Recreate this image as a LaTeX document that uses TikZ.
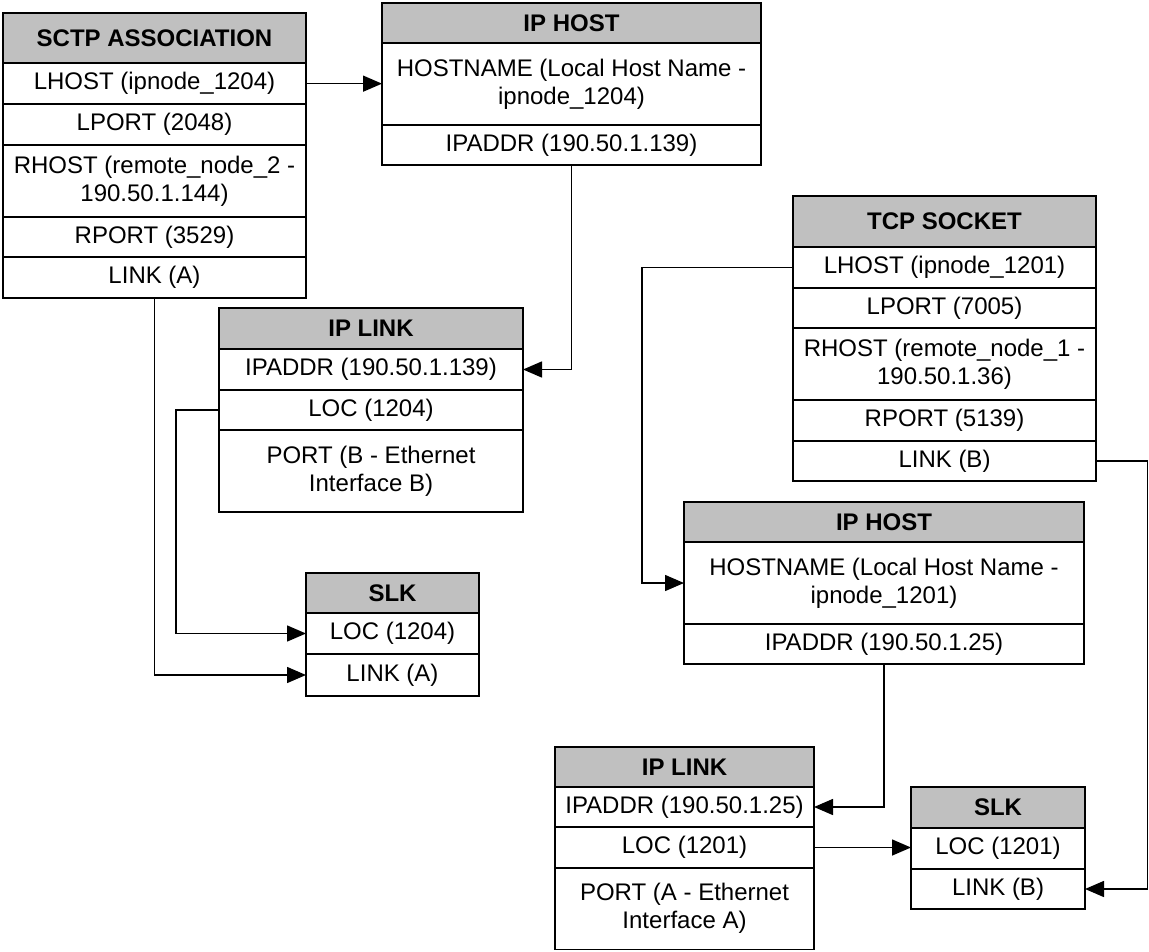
\documentclass[tikz,border=0pt]{standalone}
\usepackage{fontspec}
\setmainfont{Liberation Sans}
\usetikzlibrary{arrows.meta}
\definecolor{hdrgray}{RGB}{192,192,192}
\tikzset{
  cellbase/.style={draw=black, line width=1.8pt, inner sep=0pt, outer sep=0pt, align=center, text=black},
  hdrcell/.style={cellbase, fill=hdrgray, font=\fontsize{24}{28}\selectfont\bfseries},
  rowcell/.style={cellbase, fill=white, font=\fontsize{24}{28}\selectfont},
  link/.style={line width=1.5pt, draw=black, -{Triangle[length=19pt,width=16pt]}},
}
\newcommand\cellbox[7]{%
  \node[#2, minimum width={(#4)-(#3)}, minimum height={(#6)-(#5)}] (#1) at ({((#3)+(#4))/2},{-((#5)+(#6))/2}) {#7};}
\begin{document}
\begin{tikzpicture}[x=1pt,y=1pt]
\useasboundingbox (0,0) rectangle (1149,-951);
% SCTP ASSOCIATION
\cellbox{sctpH}{hdrcell}{3}{306}{12.7}{63.3}{SCTP ASSOCIATION}
\cellbox{sctpLH}{rowcell}{3}{306}{63.3}{104}{LHOST (ipnode\_1204)}
\cellbox{sctpLP}{rowcell}{3}{306}{104}{145}{LPORT (2048)}
\cellbox{sctpRH}{rowcell}{3}{306}{145}{216.7}{RHOST (remote\_node\_2 -\\190.50.1.144)}
\cellbox{sctpRP}{rowcell}{3}{306}{216.7}{257.3}{RPORT (3529)}
\cellbox{sctpLK}{rowcell}{3}{306}{257.3}{297.7}{LINK (A)}
% IP HOST 1
\cellbox{iphaH}{hdrcell}{382}{761}{2.7}{43.3}{IP HOST}
\cellbox{iphaHN}{rowcell}{382}{761}{43.3}{125}{HOSTNAME (Local Host Name -\\ipnode\_1204)}
\cellbox{iphaIP}{rowcell}{382}{761}{125}{165}{IPADDR (190.50.1.139)}
% IP LINK 1
\cellbox{iplaH}{hdrcell}{219}{523}{308}{349}{IP LINK}
\cellbox{iplaIP}{rowcell}{219}{523}{349}{390}{IPADDR (190.50.1.139)}
\cellbox{iplaLOC}{rowcell}{219}{523}{390}{430}{LOC (1204)}
\cellbox{iplaPT}{rowcell}{219}{523}{430}{512}{PORT (B - Ethernet\\Interface B)}
% SLK 1
\cellbox{slkaH}{hdrcell}{306}{479}{573}{613}{SLK}
\cellbox{slkaLOC}{rowcell}{306}{479}{613}{654}{LOC (1204)}
\cellbox{slkaLK}{rowcell}{306}{479}{654}{696}{LINK (A)}
% TCP SOCKET
\cellbox{tcpH}{hdrcell}{793}{1096}{196}{247}{TCP SOCKET}
\cellbox{tcpLH}{rowcell}{793}{1096}{247}{288}{LHOST (ipnode\_1201)}
\cellbox{tcpLP}{rowcell}{793}{1096}{288}{328}{LPORT (7005)}
\cellbox{tcpRH}{rowcell}{793}{1096}{328}{400}{RHOST (remote\_node\_1 -\\190.50.1.36)}
\cellbox{tcpRP}{rowcell}{793}{1096}{400}{441}{RPORT (5139)}
\cellbox{tcpLK}{rowcell}{793}{1096}{441}{481}{LINK (B)}
% IP HOST 2
\cellbox{iphbH}{hdrcell}{684}{1084}{502}{542}{IP HOST}
\cellbox{iphbHN}{rowcell}{684}{1084}{542}{624}{HOSTNAME (Local Host Name -\\ipnode\_1201)}
\cellbox{iphbIP}{rowcell}{684}{1084}{624}{664}{IPADDR (190.50.1.25)}
% IP LINK 2
\cellbox{iplbH}{hdrcell}{555}{814}{747}{787}{IP LINK}
\cellbox{iplbIP}{rowcell}{555}{814}{787}{827}{IPADDR (190.50.1.25)}
\cellbox{iplbLOC}{rowcell}{555}{814}{827}{868}{LOC (1201)}
\cellbox{iplbPT}{rowcell}{555}{814}{868}{949.5}{PORT (A - Ethernet\\Interface A)}
% SLK 2
\cellbox{slkbH}{hdrcell}{911}{1085}{787}{828}{SLK}
\cellbox{slkbLOC}{rowcell}{911}{1085}{828}{869}{LOC (1201)}
\cellbox{slkbLK}{rowcell}{911}{1085}{869}{909}{LINK (B)}
% connectors
\draw[link] (sctpLH.east) -- (sctpLH.east -| iphaHN.west);
\draw[link] (iphaIP.south) |- (iplaIP.east);
\draw[link] (iplaLOC.west) -- ++(-43,0) |- (slkaLOC.west);
\draw[link] (sctpLK.south) |- (slkaLK.west);
\draw[link] (tcpLH.west) -- ++(-151,0) |- (iphbHN.west);
\draw[link] (iphbIP.south) |- (iplbIP.east);
\draw[link] (iplbLOC.east) -- (iplbLOC.east -| slkbLOC.west);
\draw[link] (tcpLK.east) -- ++(51.5,0) |- (slkbLK.east);
\end{tikzpicture}
\end{document}
